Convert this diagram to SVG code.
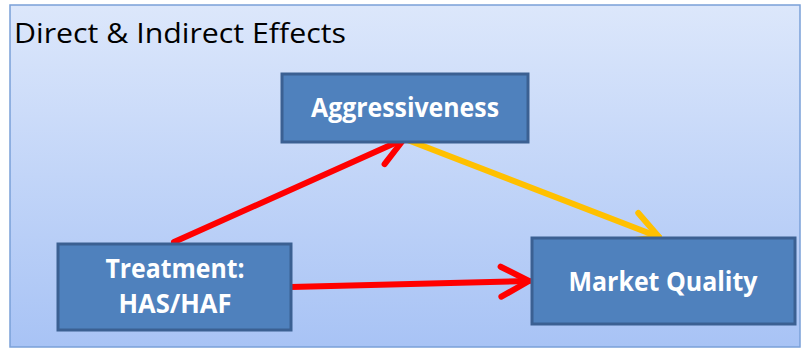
<svg xmlns="http://www.w3.org/2000/svg" width="802" height="349" viewBox="0 0 802 349">
<style>
.box{fill:#4f81bd;stroke:#3b6092;stroke-width:3}
.lbl{font-family:"Open Sans","Liberation Sans",sans-serif;font-weight:bold;fill:#ffffff;font-size:26px;text-anchor:middle}
.title{font-family:"Open Sans","Liberation Sans",sans-serif;font-size:28px;fill:#000000}
.con{fill:none;stroke-width:6;stroke-linecap:round}
</style>
<defs>
<linearGradient id="bg" x1="0" y1="0" x2="0" y2="1">
<stop offset="0" stop-color="#dce7fb"/>
<stop offset="1" stop-color="#a8c3f5"/>
</linearGradient>
<marker id="ahR" markerUnits="userSpaceOnUse" markerWidth="60" markerHeight="60" viewBox="-40 -30 60 60" refX="0" refY="0" orient="auto" overflow="visible">
<path d="M-28,-15 L0,0 L-28,15" fill="none" stroke="#ff0000" stroke-width="6" stroke-linecap="round" stroke-linejoin="round"/>
</marker>
<marker id="ahY" markerUnits="userSpaceOnUse" markerWidth="60" markerHeight="60" viewBox="-40 -30 60 60" refX="0" refY="0" orient="auto" overflow="visible">
<path d="M-28,-15 L0,0 L-28,15" fill="none" stroke="#ffc000" stroke-width="6" stroke-linecap="round" stroke-linejoin="round"/>
</marker>
</defs>
<rect x="10" y="5" width="790" height="342" fill="url(#bg)" stroke="#7aa0d8" stroke-width="1.5"/>
<text class="title" x="14" y="43" textLength="332" lengthAdjust="spacingAndGlyphs">Direct &amp; Indirect Effects</text>
<g id="connectors">
<line class="con" x1="174" y1="242" x2="404" y2="139" stroke="#ff0000" marker-end="url(#ahR)"/>
<line class="con" x1="405" y1="139" x2="659" y2="237" stroke="#ffc000" marker-end="url(#ahY)"/>
<line class="con" x1="291" y1="287" x2="529" y2="281" stroke="#ff0000" marker-end="url(#ahR)"/>
</g>
<g id="aggressiveness">
<rect class="box" x="282" y="74" width="246" height="68"/>
<text class="lbl" x="405" y="117" textLength="188" lengthAdjust="spacingAndGlyphs">Aggressiveness</text>
</g>
<g id="treatment">
<rect class="box" x="58" y="244" width="233" height="86"/>
<text class="lbl" x="175" y="278" textLength="139" lengthAdjust="spacingAndGlyphs">Treatment:</text>
<text class="lbl" x="175" y="313" textLength="113" lengthAdjust="spacingAndGlyphs">HAS/HAF</text>
</g>
<g id="market-quality">
<rect class="box" x="532" y="238" width="263" height="86"/>
<text class="lbl" x="663" y="291" textLength="189" lengthAdjust="spacingAndGlyphs">Market Quality</text>
</g>
</svg>
